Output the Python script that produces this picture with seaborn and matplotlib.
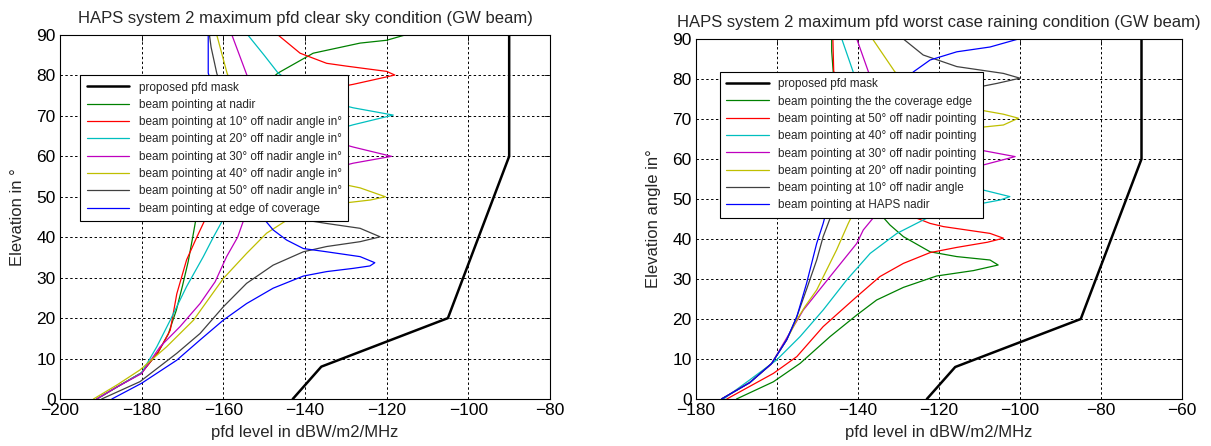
import matplotlib
matplotlib.use("Agg")
import matplotlib.pyplot as plt
import seaborn as sns

# ---------------- data (left: clear sky) ----------------
mask_l_pfd = [-143, -136, -105, -90, -90]
mask_l_elev = [0, 8, 20, 60, 90]

l_green_pfd = [-191, -186, -180, -176, -173.5, -171.5, -170, -168.6, -167.5, -166.8, -165, -160, -152, -146.6, -138, -126.5, -120, -115.5]
l_green_elev = [0, 3, 6.5, 11.5, 16, 22, 28, 34, 40, 44, 55, 68, 76, 80.6, 85.5, 88, 88.7, 90]

l_red_pfd = [-191, -186, -180, -176, -173, -171.4, -169, -166.5, -164.5, -160, -150, -135, -128.2, -123.3, -118, -120, -129.8, -134.7, -141.2, -146.6]
l_red_elev = [0, 3, 6.5, 11.5, 17, 26, 34.4, 40, 44.3, 58, 70, 76.5, 77.8, 78.9, 80.1, 81, 82.3, 83, 85.5, 90]

l_cyan_pfd = [-191, -186, -180, -176.3, -173, -169, -164.9, -162.4, -160, -152, -138, -128.2, -118.4, -128.2, -138, -146.6, -150, -154]
l_cyan_elev = [0, 3, 6.5, 12.9, 19.5, 27.8, 35.2, 40.1, 44.5, 56, 65, 67.8, 70.2, 72, 74.5, 80.6, 85, 90]

l_mag_pfd = [-191, -186, -180, -175.5, -170.6, -165.7, -162, -159.2, -156.5, -155, -145, -128.2, -118.8, -128.2, -145, -152, -154.2, -157.9]
l_mag_elev = [0, 3, 6.3, 12.9, 17.9, 23.6, 29, 35.2, 40, 44.3, 54, 58.3, 60, 62.3, 67, 75, 80, 90]

l_yel_pfd = [-191.8, -186, -180.4, -173.9, -167.3, -160, -154.3, -149.4, -143.7, -140, -130, -124, -120.3, -126.5, -135, -150, -157, -159.1, -161.6]
l_yel_elev = [0, 3.5, 7.2, 12.9, 19.5, 29.8, 36, 41, 44.7, 46.7, 48.5, 49.2, 50, 52.2, 54, 65, 75, 80.6, 90]

l_gray_pfd = [-189.8, -180.4, -171.4, -165.7, -160, -154.3, -147.8, -140.4, -134.7, -126.5, -121.6, -126.5, -134.7, -140.4, -150, -158, -161.6, -163, -163.4]
l_gray_elev = [0, 4.3, 11.3, 16.2, 22.8, 28.6, 33.1, 36.4, 37.7, 38.9, 40.1, 42.2, 43.4, 44.3, 55, 70, 80.5, 87, 90]

l_blue_pfd = [-187.3, -180, -171.4, -165.7, -160, -154.3, -147.8, -140.4, -134.7, -128.2, -124.1, -122.9, -126.5, -134.7, -140.4, -144.5, -147.8, -150.2, -156, -161, -163.7, -163.7]
l_blue_elev = [0, 3.9, 9.6, 14.6, 19.5, 23.6, 27.4, 30.4, 31.5, 32.3, 32.9, 33.7, 35.2, 36.4, 37.2, 39.3, 41.8, 44.7, 60, 72, 80.6, 90]

# ---------------- data (right: worst case raining) ----------------
mask_r_pfd = [-123, -116, -85, -70, -70]
mask_r_elev = [0, 8, 20, 60, 90]

r_green_pfd = [-170, -160.9, -154.3, -146.9, -140.3, -135.4, -128.8, -120.6, -111.5, -105.4, -107.4, -115.6, -122.2, -128.8, -132.1, -135, -141, -145, -146.1, -146.5, -146.5]
r_green_elev = [0, 4.3, 8.9, 15.6, 21, 24.75, 27.9, 30.75, 32.1, 33.5, 34.75, 35.6, 36.8, 40.6, 43.5, 46.8, 62, 75, 81.5, 87, 90]

r_red_pfd = [-172.4, -160.9, -155.1, -148.6, -140.3, -134.6, -128.8, -122.2, -115.6, -108, -104.1, -107.4, -118.9, -122.2, -128.8, -136, -142, -146, -146.2]
r_red_elev = [0, 6.4, 10.6, 18.1, 25.6, 30.6, 33.9, 36.6, 37.9, 39.2, 40.2, 41.4, 43.1, 43.9, 46.5, 58, 70, 82, 90]

r_cyan_pfd = [-173.2, -166.7, -160.1, -154.3, -148.6, -142.8, -137, -130.4, -123.9, -118.9, -111.5, -104.9, -102.5, -109.1, -125, -137, -141.2, -144]
r_cyan_elev = [0, 4.8, 9.75, 15.6, 22.25, 29.75, 36.4, 41.4, 44.75, 47.25, 48.5, 49.75, 50.6, 52.25, 58, 70, 81.8, 90]

r_mag_pfd = [-173.7, -166.7, -161.5, -158.4, -153.5, -146.9, -140.3, -138.7, -135, -125, -115, -109.1, -101.2, -109.9, -128, -136, -137.5, -140.3]
r_mag_elev = [0, 4.2, 8.6, 13.9, 22.25, 30.6, 38.9, 42.25, 46.8, 54, 57.5, 58.5, 60.6, 62.25, 70, 78, 82, 90]

r_yel_pfd = [-173.7, -166.7, -161.3, -157.6, -155, -153.1, -150.2, -145.3, -142.4, -141.2, -128, -115, -109.9, -104.1, -100.4, -104.1, -109.9, -125, -130.9, -136.4]
r_yel_elev = [0, 4.1, 8.9, 14.8, 20, 23.1, 27.25, 37.25, 43.9, 46.4, 60, 66.5, 67.9, 68.5, 70.2, 71.2, 72.25, 77, 81.8, 90]

r_gray_pfd = [-173.7, -166.7, -161.3, -157.6, -155.1, -152.5, -150.2, -148.6, -146.1, -138, -122, -110.7, -105.7, -100, -104.1, -115.6, -123.9, -128.8]
r_gray_elev = [0, 4.1, 8.9, 14.8, 20.6, 28, 34.75, 40.6, 47.3, 60, 72, 77.9, 78.9, 80.2, 81.4, 83.1, 86, 90]

r_blue_pfd = [-173.7, -166.7, -161.3, -157.6, -155.1, -152.7, -150.2, -148.6, -147.7, -144, -136, -126.3, -122.2, -115.6, -107.4, -100.4]
r_blue_elev = [0, 4.1, 8.9, 14.8, 20.6, 28.9, 38.9, 43.9, 47.3, 60, 72, 81.8, 84.75, 86.8, 88, 90]

left_labels = ["proposed pfd mask", "beam pointing at nadir",
               "beam pointing at 10° off nadir angle in°",
               "beam pointing at 20° off nadir angle in°",
               "beam pointing at 30° off nadir angle in°",
               "beam pointing at 40° off nadir angle in°",
               "beam pointing at 50° off nadir angle in°",
               "beam pointing at edge of coverage"]
right_labels = ["proposed pfd mask", "beam pointing the the coverage edge",
                "beam pointing at 50° off nadir pointing",
                "beam pointing at 40° off nadir pointing",
                "beam pointing at 30° off nadir pointing",
                "beam pointing at 20° off nadir pointing",
                "beam pointing at 10° off nadir angle",
                "beam pointing at HAPS nadir"]

left_xticks = [-200, -180, -160, -140, -120, -100, -80]
right_xticks = [-180, -160, -140, -120, -100, -80, -60]
yticks = [0, 10, 20, 30, 40, 50, 60, 70, 80, 90]

# ---------------- style ----------------
sns.set_style("white")
plt.rcParams["font.family"] = ["Liberation Sans", "DejaVu Sans"]

colors = ["black", "#008000", "#ff0000", "#00bfbf", "#bf00bf", "#bfbf00", "#404040", "#0000ff"]

fig = plt.figure(figsize=(12.11, 4.46), dpi=100)
ax1 = fig.add_axes([60 / 1211, 47 / 446, 490 / 1211, 364 / 446])
ax2 = fig.add_axes([696 / 1211, 47 / 446, 486 / 1211, 360 / 446])

left_series = [(mask_l_pfd, mask_l_elev), (l_green_pfd, l_green_elev), (l_red_pfd, l_red_elev),
               (l_cyan_pfd, l_cyan_elev), (l_mag_pfd, l_mag_elev), (l_yel_pfd, l_yel_elev),
               (l_gray_pfd, l_gray_elev), (l_blue_pfd, l_blue_elev)]
right_series = [(mask_r_pfd, mask_r_elev), (r_green_pfd, r_green_elev), (r_red_pfd, r_red_elev),
                (r_cyan_pfd, r_cyan_elev), (r_mag_pfd, r_mag_elev), (r_yel_pfd, r_yel_elev),
                (r_gray_pfd, r_gray_elev), (r_blue_pfd, r_blue_elev)]


def draw(ax, series, labels, xticks, title, ylabel, leg_anchor):
    for i, ((xs, ys), lab) in enumerate(zip(series, labels)):
        sns.lineplot(x=xs, y=ys, sort=False, estimator=None, color=colors[i],
                     lw=1.8 if i == 0 else 0.9, label=lab, ax=ax, legend=False)
    ax.set_xlim(xticks[0], xticks[-1])
    ax.set_ylim(0, 90)
    ax.set_xticks(xticks)
    ax.set_yticks(yticks)
    ax.grid(True, color="black", linestyle=(0, (2.5, 2.5)), lw=0.7)
    ax.tick_params(direction="in", length=4, width=0.6, labelsize=12.5, pad=3,
                   top=True, right=True, colors="black")
    for s in ax.spines.values():
        s.set_color("black")
        s.set_linewidth(0.8)
    ax.set_title(title, fontsize=12, pad=9)
    ax.set_xlabel("pfd level in dBW/m2/MHz", fontsize=12, labelpad=5)
    ax.set_ylabel(ylabel, fontsize=12, labelpad=8)
    leg = ax.legend(loc="upper left", bbox_to_anchor=leg_anchor, borderaxespad=0,
                    fontsize=8.5, frameon=True, fancybox=False, framealpha=1,
                    edgecolor="black", handlelength=3.6, labelspacing=0.45,
                    borderpad=0.55, handletextpad=0.8)
    leg.get_frame().set_linewidth(0.8)


draw(ax1, left_series, left_labels, left_xticks,
     "HAPS system 2 maximum pfd clear sky condition (GW beam)", "Elevation in °", (0.041, 0.89))
draw(ax2, right_series, right_labels, right_xticks,
     "HAPS system 2 maximum pfd worst case raining condition (GW beam)", "Elevation angle in°", (0.049, 0.909))

fig.savefig("out.png", dpi=100)
